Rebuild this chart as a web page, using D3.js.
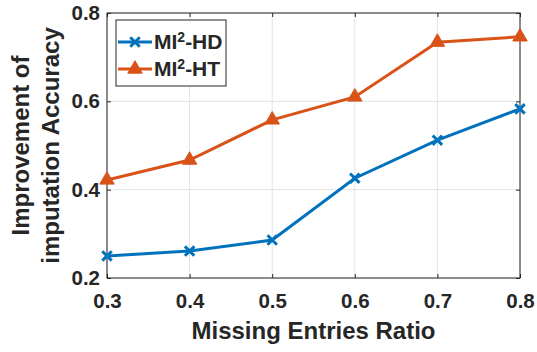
<!DOCTYPE html>
<html>
<head>
<meta charset="utf-8">
<script src="https://cdn.jsdelivr.net/npm/d3@7"></script>
<style>
  body { margin: 0; background: #fff; }
  text { font-family: "Liberation Sans", Arial, sans-serif; font-weight: bold; fill: #262626; }
</style>
</head>
<body>
<div id="chart"></div>
<script>
// data
var ratios = [0.3, 0.4, 0.5, 0.6, 0.7, 0.8];
var hdValues = [0.250, 0.261, 0.286, 0.426, 0.512, 0.583];
var htValues = [0.422, 0.467, 0.558, 0.610, 0.734, 0.746];
var xTicks = [0.3, 0.4, 0.5, 0.6, 0.7, 0.8];
var yTicks = [0.2, 0.4, 0.6, 0.8];

var W = 537, H = 352;
var margin = {top: 13, right: 17, bottom: 74, left: 107},
    width = W - margin.left - margin.right,
    height = H - margin.top - margin.bottom;

var svg = d3.select("#chart").append("svg")
    .attr("width", W).attr("height", H);
var g = svg.append("g")
    .attr("transform", "translate(" + margin.left + "," + margin.top + ")");

var x = d3.scaleLinear().domain([0.3, 0.8]).range([0, width]);
var y = d3.scaleLinear().domain([0.2, 0.8]).range([height, 0]);

// grid
g.append("g").selectAll("line").data(xTicks).enter().append("line")
    .attr("x1", d => x(d)).attr("x2", d => x(d))
    .attr("y1", 0).attr("y2", height)
    .attr("stroke", "#e3e3e3").attr("stroke-width", 1);
g.append("g").selectAll("line").data(yTicks).enter().append("line")
    .attr("y1", d => y(d)).attr("y2", d => y(d))
    .attr("x1", 0).attr("x2", width)
    .attr("stroke", "#e3e3e3").attr("stroke-width", 1);

// axes (inward ticks, box)
var tickLen = 4;
g.append("g").attr("transform", "translate(0," + height + ")")
    .call(d3.axisBottom(x).tickValues(xTicks).tickSizeInner(-tickLen).tickSizeOuter(0).tickPadding(15).tickFormat(d3.format(".1f")))
    .call(s => s.select(".domain").remove());
g.append("g")
    .call(d3.axisLeft(y).tickValues(yTicks).tickSizeInner(-tickLen).tickSizeOuter(0).tickPadding(7).tickFormat(d3.format(".1f")))
    .call(s => s.select(".domain").remove());
g.append("g")
    .call(d3.axisTop(x).tickValues(xTicks).tickSizeInner(-tickLen).tickSizeOuter(0).tickFormat(""))
    .call(s => s.select(".domain").remove());
g.append("g").attr("transform", "translate(" + width + ",0)")
    .call(d3.axisRight(y).tickValues(yTicks).tickSizeInner(-tickLen).tickSizeOuter(0).tickFormat(""))
    .call(s => s.select(".domain").remove());
g.selectAll(".tick line").attr("stroke", "#262626");
g.selectAll(".tick text").style("font-size", "20.5px").attr("fill", "#262626");

g.append("rect")
    .attr("width", width).attr("height", height)
    .attr("fill", "none").attr("stroke", "#262626").attr("stroke-width", 1);

// lines
var blue = "#0072BD", orange = "#D95319";
var line = d3.line().x(d => x(d[0])).y(d => y(d[1]));
var hd = ratios.map((r, i) => [r, hdValues[i]]);
var ht = ratios.map((r, i) => [r, htValues[i]]);

g.append("path").datum(hd).attr("d", line)
    .attr("fill", "none").attr("stroke", blue).attr("stroke-width", 3);
g.append("path").datum(ht).attr("d", line)
    .attr("fill", "none").attr("stroke", orange).attr("stroke-width", 3);

var cross = d3.symbol().type(d3.symbolTimes).size(60);
var tri = d3.symbol().type(d3.symbolTriangle).size(90);

g.selectAll(".hd").data(hd).enter().append("path")
    .attr("transform", d => "translate(" + x(d[0]) + "," + y(d[1]) + ")")
    .attr("d", cross).attr("fill", "none").attr("stroke", blue).attr("stroke-width", 3);
g.selectAll(".ht").data(ht).enter().append("path")
    .attr("transform", d => "translate(" + x(d[0]) + "," + y(d[1]) + ")")
    .attr("d", tri).attr("fill", orange).attr("stroke", orange).attr("stroke-width", 1);

// legend
var legend = svg.append("g").attr("transform", "translate(116,20)");
legend.append("rect").attr("width", 110).attr("height", 66)
    .attr("fill", "#fff").attr("stroke", "#262626").attr("stroke-width", 1);
var items = [{name: "HD", color: blue, sym: cross, fill: "none"},
             {name: "HT", color: orange, sym: tri, fill: orange}];
items.forEach(function(it, i) {
  var ly = 22 + i * 27;
  legend.append("line").attr("x1", 2).attr("x2", 36).attr("y1", ly).attr("y2", ly)
      .attr("stroke", it.color).attr("stroke-width", 3);
  legend.append("path").attr("transform", "translate(19," + ly + ")")
      .attr("d", it.sym).attr("fill", it.fill).attr("stroke", it.color)
      .attr("stroke-width", it.fill === "none" ? 3 : 1);
  var t = legend.append("text").attr("x", 38).attr("y", ly + 7).style("font-size", "21px");
  t.append("tspan").text("MI");
  t.append("tspan").attr("dy", -7).style("font-size", "14px").text("2");
  t.append("tspan").attr("dy", 7).text("-" + it.name);
});

// axis labels
svg.append("text")
    .attr("text-anchor", "middle")
    .attr("x", margin.left + width / 2)
    .attr("y", 339)
    .style("font-size", "24px")
    .text("Missing Entries Ratio");

var yl = svg.append("text")
    .attr("text-anchor", "middle")
    .attr("transform", "translate(29," + (margin.top + height / 2) + ") rotate(-90)")
    .style("font-size", "24px");
yl.append("tspan").attr("x", 0).attr("y", 0).text("Improvement of");
yl.append("tspan").attr("x", 0).attr("y", 30).text("imputation Accuracy");
</script>
</body>
</html>
